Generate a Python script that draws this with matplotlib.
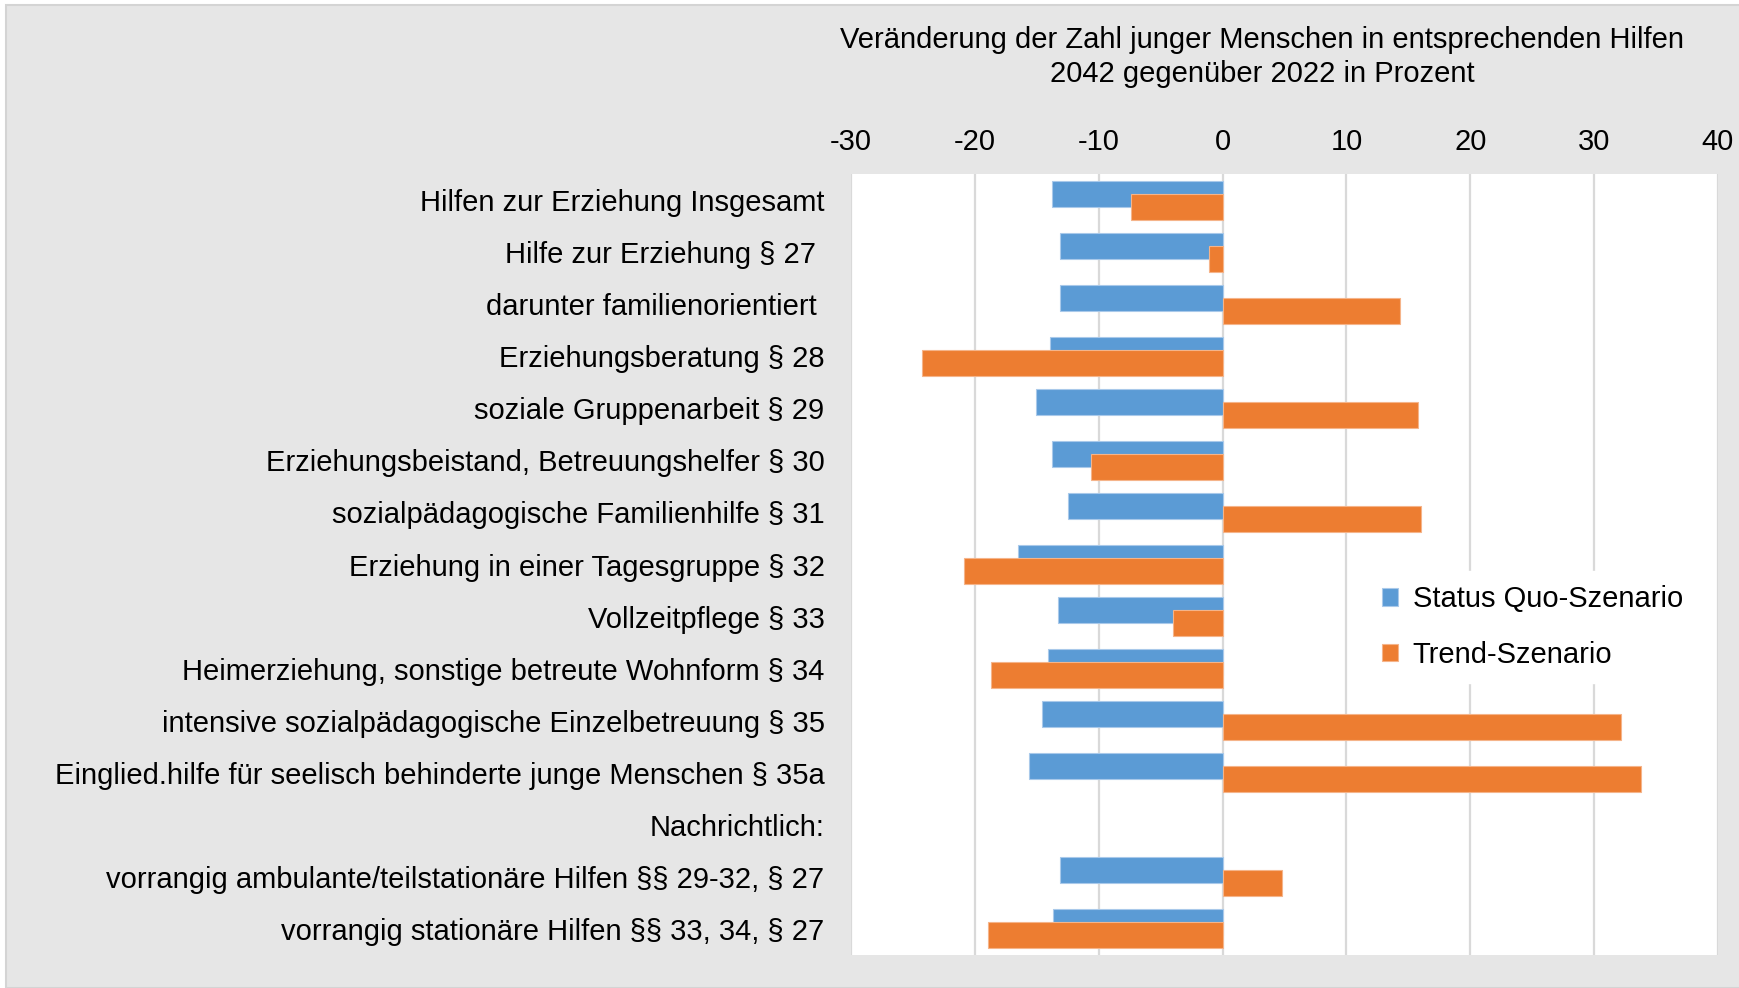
import numpy as np
import matplotlib.pyplot as plt
from matplotlib.patches import Rectangle

plt.rcParams['font.family'] = ['Liberation Sans', 'DejaVu Sans']

categories = [
    "Hilfen zur Erziehung Insgesamt",
    "Hilfe zur Erziehung § 27 ",
    "darunter familienorientiert ",
    "Erziehungsberatung § 28",
    "soziale Gruppenarbeit § 29",
    "Erziehungsbeistand, Betreuungshelfer § 30",
    "sozialpädagogische Familienhilfe § 31",
    "Erziehung in einer Tagesgruppe § 32",
    "Vollzeitpflege § 33",
    "Heimerziehung, sonstige betreute Wohnform § 34",
    "intensive sozialpädagogische Einzelbetreuung § 35",
    "Einglied.hilfe für seelisch behinderte junge Menschen § 35a",
    "Nachrichtlich:",
    "vorrangig ambulante/teilstationäre Hilfen §§ 29-32, § 27",
    "vorrangig stationäre Hilfen §§ 33, 34, § 27",
]
# NaN = no bar (heading row)
status_quo = [-13.8, -13.1, -13.1, -13.9, -15.1, -13.8, -12.5, -16.5, -13.3, -14.1,
              -14.6, -15.6, np.nan, -13.1, -13.7]
trend = [-7.4, -1.1, 14.3, -24.3, 15.8, -10.6, 16.0, -20.9, -4.0, -18.7,
         32.2, 33.8, np.nan, 4.8, -18.9]
xticks = [-30, -20, -10, 0, 10, 20, 30, 40]
title = "Veränderung der Zahl junger Menschen in entsprechenden Hilfen\n2042 gegenüber 2022 in Prozent"

blue = '#5B9BD5'
orange = '#ED7D31'
fs = 21

fig = plt.figure(figsize=(17.39, 9.88), dpi=100, facecolor='white')
fig.patches.append(Rectangle((6 / 1739, 0), 1, 1 - 5 / 988, transform=fig.transFigure,
                             facecolor='#e6e6e6', edgecolor='#d4d4d4', lw=1.5, zorder=-10))

ax = fig.add_axes([851 / 1739, 1 - 955 / 988, (1718 - 851) / 1739, (955 - 174) / 988])
ax.set_facecolor('white')

y = np.arange(len(categories))
ax.barh(y - 0.125, status_quo, height=0.5, color=blue, edgecolor='#a9c9ea', lw=0.8,
        label='Status Quo-Szenario', zorder=2)
ax.barh(y + 0.125, trend, height=0.5, color=orange, edgecolor='#f5b48a', lw=0.8,
        label='Trend-Szenario', zorder=3)

ax.set_xlim(-30, 40)
ax.set_ylim(len(categories) - 0.5, -0.5)
ax.set_xticks(xticks)
ax.set_xticklabels([str(t) for t in xticks])
ax.xaxis.tick_top()
ax.set_yticks(y)
ax.set_yticklabels(categories)
ax.tick_params(axis='x', length=0, pad=13, labelsize=fs, colors='black')
ax.tick_params(axis='y', length=0, pad=19, labelsize=fs, colors='black')
ax.grid(axis='x', color='#d9d9d9', lw=1.6)
ax.set_axisbelow(True)
for s in ax.spines.values():
    s.set_visible(False)

fig.text(1262 / 1739, 1 - 57 / 988, title, ha='center', va='center', fontsize=fs,
         linespacing=1.3)

leg = ax.legend(loc='upper left', bbox_to_anchor=(1353 / 1739, 1 - 556 / 988),
                bbox_transform=fig.transFigure, fontsize=fs, frameon=True,
                facecolor='white', edgecolor='white', framealpha=1, fancybox=False,
                handlelength=0.55, handleheight=0.55, handletextpad=0.5,
                labelspacing=0.95, borderpad=0.5)
leg.set_zorder(5)

fig.savefig('out.png', dpi=100, facecolor=fig.get_facecolor())
